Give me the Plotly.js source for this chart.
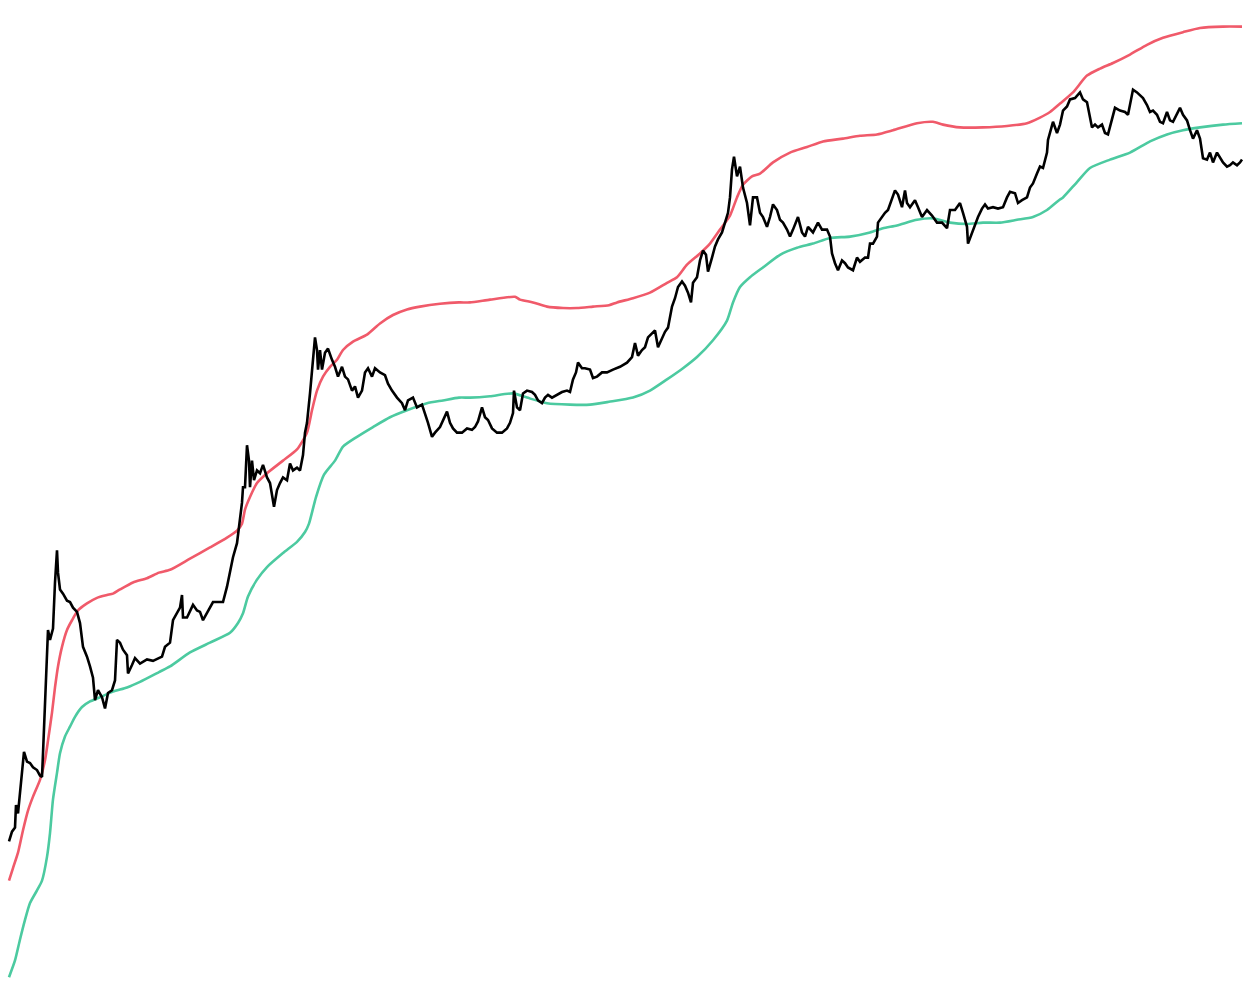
<!DOCTYPE html>
<html>
<head>
<meta charset="utf-8">
<script src="https://cdn.plot.ly/plotly-3.0.1.min.js"></script>
<style>
  html, body { margin: 0; padding: 0; background: #ffffff; }
  #chart { width: 1246px; height: 990px; }
</style>
</head>
<body>
<div id="chart"></div>
<script>
// Week offsets since the series start (2010-12-26), and log10(price, USD)
const startDate = Date.UTC(2010, 11, 26);

const priceWeeks = [-0.5,1,2.5,3,4,5,6.5,7,8.5,10,11.5,13.5,15,16,16.5,17,18,19,20,21.5,22.5,23.5,24,25,26.5,28.5,30,31.5,33.5,35,36.5,38.5,40,41.5,42.5,44,46,47.5,49,51,52.5,53.5,55,56.5,58.5,59,61,62.5,65,68.5,71.5,74.5,
76,77.5,80,81.5,83.5,85,86,86.5,88.5,90,91.5,93.5,95,96.5,98.5,100,101.5,104,106.5,108.5,110,111.5,113.5,114.5,116,116.5,117.5,118.5,119.5,120,121,122,123.5,125,126.5,128.5,130,132,133.5,135,136.5,138.5,140,141.5,143.5,145,146.5,147.5,148.5,
150,151.5,152.5,153.5,154,155,156,157.5,159,161,162.5,164,166,167.5,169,171,172.5,174,176,177.5,179,181,182.5,185,187.5,189,191,193.5,196,197.5,199,201.5,203.5,206,207.5,209,211,212.5,215,216.5,218.5,220,221.5,223.5,
226,228.5,231,232.5,234,236,237.5,239,241,243.5,246,248.5,250,251.5,252,253.5,255,256.5,258.5,261,262.5,264,266,267.5,269,271,273.5,276,278.5,280,281.5,283,284,286,287.5,290,291.5,293.5,296,298.5,
301.5,305,308.5,311,312.5,314,316,317.5,319,321,322.5,324,326,327.5,329,331,332.5,334,336,337.5,339,340.5,341.5,343.5,345,346.5,348,349,351,352.5,354,356,357.5,359,360,361,362,363.5,365,366.5,368.5,370,371.5,373.5,
375,376.5,378.5,380,381.5,383.5,385,386.5,388.5,390,391.5,394,396,397.5,399,401.5,404,406,408.5,410,411,412.5,414,416,417.5,419,421.5,423.5,425,427.5,429,430,431.5,433.5,434,436,437.5,439,441,442.5,444,446,447.5,
448.5,450,452.5,454,456,458.5,461,463.5,466,468.5,470,472.5,475,476.5,478.5,479,481,482.5,484,486,487.5,489,491.5,494,496.5,498.5,500,502.5,504,506,508.5,510,511.5,513.5,515,516.5,518.5,519,520.5,521.5,523.5,525,526.5,528.5,530,532.5,535,536.5,538.5,540,541,542.5,544,546,547.5,549,551,552.5,555,557.5,559,560,561.5,563.5,565,566.5,568.5,570,571.5,573.5,575,576.5,578.5,580,581.5,583.5,585,586.5,588.5,590,591.5,593.5,595,596.5,598.5,600,601.5,603.5,605,606.5,608.5,610,611.5,613.5,615,616];

const priceLog = [-0.58,-0.51,-0.48,-0.32,-0.38,-0.23,0.00,0.06,-0.01,-0.02,-0.05,-0.07,-0.11,-0.12,0.05,0.24,0.59,0.93,0.86,0.94,1.27,1.50,1.34,1.22,1.19,1.14,1.13,1.09,1.06,0.98,0.81,0.74,0.67,0.59,0.43,0.50,0.45,0.37,0.48,0.50,0.57,0.86,0.84,0.79,0.75,0.62,0.68,0.73,0.69,0.72,0.71,0.73,
0.74,0.81,0.84,1.00,1.05,1.09,1.18,1.02,1.02,1.07,1.11,1.07,1.06,1.00,1.05,1.09,1.13,1.13,1.13,1.24,1.34,1.45,1.55,1.67,1.84,1.95,1.95,2.25,2.14,1.95,2.14,2.00,2.07,2.05,2.11,2.02,1.98,1.81,1.93,1.98,2.02,2.00,2.12,2.07,2.09,2.07,2.18,2.34,2.41,
2.62,2.88,3.02,2.93,2.79,2.93,2.79,2.91,2.94,2.86,2.81,2.74,2.81,2.74,2.72,2.64,2.67,2.59,2.64,2.77,2.80,2.74,2.80,2.77,2.75,2.69,2.64,2.59,2.55,2.50,2.57,2.59,2.52,2.54,2.48,2.41,2.31,2.34,2.38,2.43,2.49,2.41,2.37,2.34,
2.34,2.37,2.36,2.38,2.42,2.52,2.45,2.43,2.37,2.34,2.34,2.37,2.41,2.48,2.64,2.52,2.50,2.62,2.64,2.63,2.61,2.57,2.55,2.59,2.61,2.59,2.61,2.63,2.64,2.63,2.72,2.77,2.84,2.80,2.80,2.79,2.73,2.74,2.77,2.77,
2.79,2.81,2.84,2.88,2.98,2.89,2.93,2.95,3.02,3.05,3.07,2.95,3.02,3.06,3.09,3.24,3.30,3.38,3.42,3.39,3.34,3.27,3.41,3.45,3.57,3.64,3.61,3.49,3.59,3.67,3.72,3.77,3.84,3.91,4.02,4.22,4.31,4.17,4.24,4.09,3.98,3.82,4.02,4.02,
3.91,3.88,3.81,3.88,3.97,3.93,3.86,3.84,3.79,3.74,3.79,3.88,3.77,3.74,3.81,3.77,3.84,3.79,3.79,3.74,3.62,3.55,3.50,3.57,3.55,3.52,3.50,3.59,3.56,3.59,3.59,3.69,3.69,3.74,3.84,3.88,3.91,3.93,4.02,4.07,4.04,3.95,4.07,
3.98,3.95,4.00,3.95,3.88,3.93,3.89,3.84,3.84,3.80,3.93,3.93,3.98,3.91,3.81,3.69,3.77,3.82,3.88,3.94,3.97,3.94,3.95,3.94,3.95,4.02,4.06,4.05,3.98,4.00,4.02,4.09,4.12,4.19,4.24,4.23,4.34,4.43,4.50,4.56,4.48,4.54,4.64,4.67,4.72,4.73,4.77,4.72,4.70,4.59,4.52,4.54,4.52,4.54,4.48,4.47,4.59,4.66,4.64,4.63,4.61,4.69,4.79,4.77,4.75,4.73,4.68,4.63,4.64,4.61,4.56,4.55,4.63,4.57,4.56,4.62,4.66,4.61,4.57,4.50,4.44,4.50,4.44,4.30,4.29,4.34,4.27,4.34,4.30,4.27,4.24,4.25,4.27,4.25,4.27,4.29];

const upperWeeks = [-0.5,1.5,4,6.5,9,11.5,15,17.5,19,21,22.5,24,26,28.5,31,34,38.5,43.5,48.5,51.5,55,61.5,68.5,74.5,80,90,100,108.5,113.5,116,117.5,120,123.5,128.5,136.5,143.5,148.5,151,153.5,156.5,160,163.5,166.5,171.5,178.5,185,191.5,198.5,205,215,224.5,230,240,252.5,255,261.5,268.5,276.5,283.5,291.5,299.5,303.5,311.5,320,328.5,333.5,338.5,345,350,355,360,363.5,366.5,371,375,381.5,390,398.5,406.5,416.5,425,433.5,441.5,453.5,461.5,466.5,475,486.5,498.5,508.5,515,520,525,531.5,538.5,545,551.5,560,568.5,576.5,586.5,595,606.5,616];
const upperLog = [-0.86,-0.77,-0.66,-0.50,-0.36,-0.26,-0.14,0.00,0.14,0.34,0.52,0.67,0.81,0.93,1.00,1.07,1.12,1.16,1.18,1.19,1.22,1.27,1.30,1.34,1.36,1.44,1.52,1.59,1.64,1.69,1.79,1.88,1.98,2.05,2.14,2.22,2.34,2.50,2.64,2.74,2.81,2.86,2.93,2.99,3.04,3.12,3.18,3.22,3.24,3.26,3.27,3.27,3.29,3.31,3.29,3.27,3.24,3.23,3.23,3.24,3.25,3.27,3.30,3.34,3.41,3.45,3.54,3.62,3.69,3.79,3.89,4.02,4.11,4.17,4.19,4.27,4.34,4.38,4.42,4.44,4.46,4.47,4.50,4.55,4.56,4.54,4.52,4.52,4.53,4.55,4.59,4.63,4.69,4.77,4.89,4.94,4.98,5.04,5.11,5.16,5.20,5.23,5.24,5.24];

const lowerWeeks = [-0.5,2.5,5,7.5,10,13.5,16,18.5,20,21.5,23.5,25,27.5,30,32.5,36,40,45,51.5,58.5,65,74.5,80,90,100,110,114,116.5,119,123.5,128.5,136.5,143.5,147.5,149.5,153,157,162.5,166.5,173.5,181.5,190,198.5,208.5,216.5,224.5,230,240,251.5,258.5,268.5,280,290,299.5,311.5,320,328.5,336.5,343.5,351.5,358.5,361.5,365,370,376.5,385,393.5,401.5,410,420,430,436.5,443.5,453.5,461.5,470,478.5,486.5,495,503.5,511.5,518.5,524.5,526.5,533.5,540,550,560,570,578.5,586.5,595,606.5,616];
const lowerLog = [-1.55,-1.43,-1.28,-1.14,-1.02,-0.93,-0.86,-0.69,-0.52,-0.28,-0.09,0.05,0.17,0.24,0.31,0.38,0.42,0.45,0.49,0.52,0.56,0.63,0.67,0.77,0.84,0.91,0.98,1.05,1.17,1.29,1.38,1.48,1.56,1.63,1.69,1.88,2.04,2.14,2.24,2.31,2.38,2.45,2.50,2.55,2.57,2.59,2.59,2.60,2.62,2.59,2.55,2.54,2.54,2.56,2.59,2.64,2.72,2.80,2.88,3.00,3.14,3.27,3.38,3.45,3.52,3.61,3.66,3.69,3.73,3.74,3.77,3.80,3.82,3.86,3.87,3.84,3.83,3.84,3.84,3.86,3.88,3.93,4.00,4.02,4.13,4.23,4.29,4.34,4.42,4.47,4.50,4.52,4.54,4.55];

function toDate(w) {
  return new Date(startDate + w * 7 * 864e5).toISOString().replace('T', ' ').slice(0, 19);
}

const traces = [
  { x: upperWeeks.map(toDate), y: upperLog, type: 'scatter', mode: 'lines',
    line: { color: '#f05a6a', width: 2.6, shape: 'spline', smoothing: 0.6 }, hoverinfo: 'skip' },
  { x: lowerWeeks.map(toDate), y: lowerLog, type: 'scatter', mode: 'lines',
    line: { color: '#4ccaa0', width: 2.6, shape: 'spline', smoothing: 0.6 }, hoverinfo: 'skip' },
  { x: priceWeeks.map(toDate), y: priceLog, type: 'scatter', mode: 'lines',
    line: { color: '#000000', width: 2.6 }, hoverinfo: 'skip' }
];

const layout = {
  width: 1246, height: 990,
  margin: { l: 0, r: 0, t: 0, b: 0, pad: 0 },
  paper_bgcolor: '#ffffff', plot_bgcolor: '#ffffff',
  showlegend: false,
  xaxis: { type: 'date', range: [toDate(-5), toDate(618)], visible: false, showgrid: false, zeroline: false },
  yaxis: { range: [-1.641, 5.43], visible: false, showgrid: false, zeroline: false }
};

Plotly.newPlot('chart', traces, layout, { displayModeBar: false, staticPlot: true });
</script>
</body>
</html>
